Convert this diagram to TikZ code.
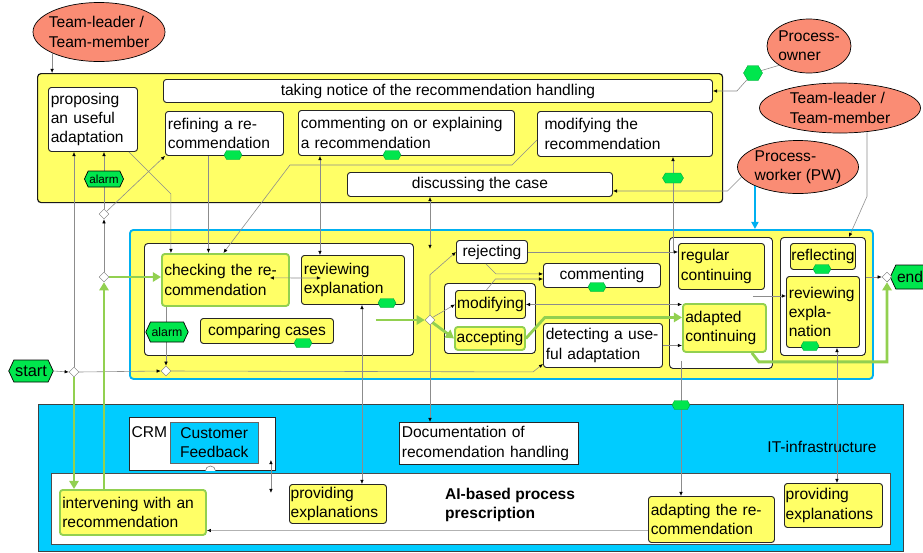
\documentclass[tikz,border=0pt]{standalone}
\usepackage{fontspec}
\setmainfont{Liberation Sans}
\usetikzlibrary{arrows.meta, shapes.geometric, shapes.symbols, positioning, calc}
\definecolor{rolesalmon}{HTML}{FA8C74}
\definecolor{actyellow}{HTML}{FFFF66}
\definecolor{itcyan}{HTML}{00CCFF}
\definecolor{pwblue}{HTML}{00B0F0}
\definecolor{evgreen}{HTML}{00E64D}
\definecolor{flowgreen}{HTML}{92D050}
\definecolor{linegray}{HTML}{8C8C8C}

\begin{document}
\begin{tikzpicture}[x=0.03cm, y=-0.03cm, every node/.style={font=\fontsize{13.3}{16.5}\selectfont}]
  \tikzset{dim/.style 2 args={minimum width=#1*0.03cm, minimum height=#2*0.03cm},
           wh/.style 2 args={dim={#1}{#2}, anchor=north west, inner xsep=2pt, inner ysep=1pt},
           lb/.style 2 args={wh={#1}{#2}, text width=#1*0.03cm-4pt, align=left},
           cb/.style 2 args={wh={#1}{#2}, align=center},
           actw/.style={draw=black!85, fill=white, rounded corners=2.5pt, line width=0.8pt},
           acty/.style={draw=black!85, fill=actyellow, rounded corners=2.5pt, line width=0.8pt},
           actg/.style={draw=flowgreen, fill=actyellow, rounded corners=2.5pt, line width=1.6pt},
           grp/.style={draw=black!85, fill=white, rounded corners=3pt, line width=0.8pt},
           role/.style={ellipse, draw=black, fill=rolesalmon, line width=0.6pt, inner sep=0pt},
           evhex/.style={signal, signal to=east and west, signal pointer angle=130,
                         draw=black, fill=evgreen, inner sep=1pt, line width=0.6pt},
           mk/.style={signal, signal to=east and west, signal pointer angle=120, inner sep=0pt,
                      fill=evgreen, draw=evgreen!70!black, line width=0.3pt},
           gate/.style={diamond, draw=black!55, fill=white, minimum size=10*0.03cm, inner sep=0pt},
           >={Latex[length=3.5pt, width=3pt, color=black]},
           flow/.style={draw=linegray, line width=0.5pt, ->},
           flowb/.style={draw=linegray, line width=0.5pt, <->},
           gflow/.style={draw=flowgreen, line width=2.4pt, -{Triangle[length=7pt, width=8pt]}},
           pwarrow/.style={draw=pwblue, line width=1.4pt, -{Triangle[length=6pt, width=6pt]}}}
  \useasboundingbox (0,0) rectangle (923,552);

  % containers
  \node[wh={685}{129}, draw=black!90, fill=actyellow, rounded corners=3pt, line width=1pt] (topbox) at (37,73) {};
  \node[wh={743}{149}, draw=pwblue, fill=actyellow, rounded corners=3pt, line width=1.6pt] (midbox) at (129,229) {};
  \node[wh={865}{147}, draw=black!75, fill=itcyan, line width=1pt] (itbox) at (38,404) {};
  \node[wh={839}{71}, draw=black!70, fill=white, line width=1pt] (aibox) at (51,473) {};
  \node[grp, wh={269}{112}] (grpA) at (144,243) {};
  \node[grp, wh={91}{70}] (grpB) at (444,283) {};
  \node[grp, wh={103}{131}] (grpC) at (669,237) {};
  \node[grp, wh={85}{118}] (grpD) at (780,237) {};
  \node[draw=black!85, fill=white, line width=0.8pt, wh={146}{53}] (crm) at (129,417) {};

  % roles
  \node[role, dim={132}{59}] (tlA) at (99,32) {};
  \node[align=left] (tlAt) at (tlA) {Team-leader /\\Team-member};
  \node[role, dim={84}{54}] (po) at (809,46) {};
  \node[align=left] (pot) at (po) {Process-\\owner};
  \node[role, dim={161}{50}] (tlB) at (840,108) {};
  \node[align=left] (tlBt) at (tlB) {Team-leader /\\Team-member};
  \node[role, dim={121}{53}] (pw) at (798,167) {};
  \node[align=left] (pwt) at (pw) {Process-\\worker (PW)};

  % team activities
  \node[actw, lb={89}{64}] (propose) at (48,87) {proposing\\an useful\\adaptation};
  \node[actw, cb={549}{23}] (notice) at (163,79) {taking notice of the recommendation handling};
  \node[actw, lb={118}{44}] (refine) at (165,111) {refining a re-\\commendation};
  \node[actw, lb={216}{45}] (cmo) at (298,110) {commenting on or explaining\\a recommendation};
  \node[actw, lb={175}{45}, inner xsep=6pt, text width=175*0.03cm-12pt] (modrec) at (537,111) {modifying the\\recommendation};
  \node[actw, cb={265}{24}] (discuss) at (347,172) {discussing the case};

  % process worker activities
  \node[actg, lb={127}{52}] (check) at (161,253) {checking the re-\\commendation};
  \node[acty, lb={103}{49}] (review) at (301,255) {reviewing\\explanation};
  \node[acty, cb={133}{25}] (compare) at (200,318) {comparing cases};
  \node[actw, cb={71}{23}] (reject) at (456,240) {rejecting};
  \node[actw, cb={117}{24}] (comm) at (543,263) {commenting};
  \node[acty, cb={70}{28}, inner xsep=0pt] (modify) at (455,290) {modifying};
  \node[actg, cb={70}{23}, inner xsep=0pt] (accept) at (454,326) {accepting};
  \node[actw, lb={119}{44}] (detect) at (543,323) {detecting a use-\\ful adaptation};
  \node[acty, lb={86}{46}] (regular) at (678,243) {regular\\continuing};
  \node[actg, lb={83}{48}] (adapted) at (682,303) {adapted\\continuing};
  \node[acty, cb={65}{26}, inner xsep=0pt] (reflect) at (790,243) {reflecting};
  \node[acty, lb={73}{71}] (review2) at (786,276) {reviewing\\expla-\\nation};

  % IT infrastructure
  \node[draw=black!60, fill=itcyan, cb={88}{41}] (feedback) at (170,422) {Customer\\Feedback};
  \node[anchor=west, inner sep=2pt] (crmt) at (129,432) {CRM};
  \node[draw=black!85, fill=white, line width=0.8pt, lb={179}{42}] (doc) at (399,422) {Documentation of\\recomendation handling};
  \node (itlbl) at (822,447) {IT-infrastructure};
  \node[actg, lb={146}{45}] (intervene) at (59,489) {intervening with an\\recommendation};
  \node[acty, lb={97}{39}, inner xsep=1pt, text width=97*0.03cm-2pt] (prov1) at (289,484) {providing\\explanations};
  \node[anchor=north west, align=left, font=\fontsize{13.3}{16.5}\selectfont\bfseries] (ailbl) at (441,484) {AI-based process\\prescription};
  \node[acty, lb={126}{46}] (adapting) at (648,496) {adapting the re-\\commendation};
  \node[acty, lb={98}{44}, inner xsep=1pt, text width=98*0.03cm-2pt] (prov2) at (784,483) {providing\\explanations};
  \draw[black!60, fill=white] ($(crm.south)+(3,0)$) arc[start angle=180, end angle=360, radius=5];

  % events and gateways
  \node[evhex, dim={42}{22}, font=\fontsize{14}{16}\selectfont] (start) at (31,371) {start};
  \node[evhex, dim={32}{24}] (end) at (910,277) {end};
  \node[gate] (d0) at (74,372) {};
  \node[gate] (d1) at (166,371) {};
  \node[gate] (d2) at (104,277) {};
  \node[gate] (d3) at (104,214) {};
  \node[gate] (d4) at (430,320) {};
  \node[gate] (d5) at (887,277) {};
  \coordinate (hxPO) at (753,73);
  \coordinate (hxMR) at (673,178);
  \coordinate (hxIT) at (681,405);

  % connectors
  \draw[flow] (tlA.south west) -- (tlA.south west |- topbox.north);
  \draw[flow] (po.south west) -- (hxPO) -- ($(notice.east)+(24,0)$) -- (notice.east);
  \draw[flow] (pw.190) -- ++(-14,14) coordinate (pwb) -- (pwb -| discuss.east);
  \draw[pwarrow] (pw.south west) -- (pw.south west |- midbox.north);
  \draw[flow] ($(tlB.south)+(27,-1)$) -- ++(0,64) -- ($(grpD.north)+(26,0)$);
  \draw[flow] (reject.east) -- (reject.east -| regular.west);
  \draw[flow] (reject.east -| hxMR) -- (hxMR |- modrec.south);
  \draw[flowb] (d4 |- discuss.south) -- ++(0,52);
  \draw[flow] (d4.north) -- ++(0,-40) -- (reject.west);
  \draw[flow] (d4.north east) -- (modify.west);
  \draw[flow] (d4.south) -- (d4 |- doc.north);
  \draw[gflow] (d4.south east) -- (accept.west);
  \draw[gflow] ($(d4.west)+(-49,0)$) -- (d4.west);
  \draw[flow] ($(reject.south)+(-6,0)$) -- ++(10,10) coordinate (rc) -- (rc -| comm.west);
  \draw[flow] ($(modify.north)+(-4,0)$) -- ++(9,-11) coordinate (mc) -- (mc -| comm.west);
  \draw[flowb] (modify.east) -- (modify.east -| adapted.west);
  \draw[flow] (detect.east) -- (detect.east -| adapted.west);
  \draw[gflow] (accept.east) -- ++(19,-21) coordinate (ac) -- (ac -| adapted.west);
  \draw[flow] ($(grpC.east)+(-20,-7)$) coordinate (gc) -- (gc -| review2.west);
  \draw[flow] (d5 -| grpD.east) -- (d5.west);
  \draw[linegray] (d5.east) -- (end.west);
  \draw[gflow] ($(adapted.south east)+(-15,0)$) -- ++(7,9) coordinate (ad) -- (ad -| d5) -- (d5.south);
  \draw[flow] (start.east) -- (d0.west);
  \draw[flow] (d0.east) -- (d1.west);
  \draw[flow] (d1.east) -- ($(detect.south west)+(-10,4)$) -- ($(detect.south west)+(0,-4)$);
  \draw[flow] (d1 |- check.south) -- (d1.north);
  \draw[gflow] (d0.south) -- (d0 |- intervene.north);
  \draw[flow] (d0.north) -- (d0 |- propose.south);
  \draw[gflow] (d2 |- intervene.north) -- (d2.south);
  \draw[gflow] (d2.east) -- (d2 -| check.west);
  \draw[flow] (d2.north) -- (d3.south);
  \draw[flow] (d3.north) -- (d3 |- propose.south);
  \draw[flow] (d3.north east) -- (refine.south west);
  \draw[flow] ($(propose.south east)+(-9,0)$) -- ++(42,42) coordinate (pc) -- (pc |- check.north);
  \draw[flow] ($(refine.south)+(-16,0)$) coordinate (rf) -- (rf |- check.north);
  \draw[flow] ($(modrec.west)+(0,6)$) -- ++(-25,25) -- ++(-222,0) -- ($(check.north)+(-2,0)$);
  \draw[flowb] ($(review.north)+(-33,0)$) coordinate (rv) -- (rv |- cmo.south);
  \draw[flowb] ($(check.east)+(-20,-2)$) -- ($(review.west)+(20,-2)$);
  \draw[flowb] ($(review.south)+(9,0)$) coordinate (rp) -- (rp |- prov1.north);
  \draw[flowb] ($(crm.south east)+(-5,-11)$) -- ++(0,33);
  \draw[flow, draw=black!30] ($(adapting.west)+(0,11)$) coordinate (aw) -- (aw -| intervene.east);
  \draw[flowb] ($(review2.south)+(14,0)$) coordinate (rq) -- (rq |- prov2.north);
  \draw[flow] ($(grpC.south west)+(12,-8)$) coordinate (gq) -- (gq |- adapting.north);

  % markers
  \node[evhex, dim={36}{16}, font=\fontsize{10}{12}\selectfont] (alarmA) at (104,179) {alarm};
  \node[evhex, dim={38}{20}, font=\fontsize{10.5}{12}\selectfont] (alarmB) at (167,332) {alarm};
  \node[mk, dim={18}{9}] (mk1) at (233,155) {};
  \node[mk, dim={18}{9}] (mk2) at (392,155) {};
  \node[mk, dim={21}{10}] (mk3) at (hxMR) {};
  \node[mk, dim={19}{15}] (mk4) at (hxPO) {};
  \node[mk, dim={18}{9}] (mk5) at (387,303) {};
  \node[mk, dim={18}{9}] (mk6) at (303,343) {};
  \node[mk, dim={18}{9}] (mk7) at (597,287) {};
  \node[mk, dim={18}{9}] (mk8) at (822,269) {};
  \node[mk, dim={18}{9}] (mk9) at (810,346) {};
  \node[mk, dim={18}{9}] (mk10) at (hxIT) {};
\end{tikzpicture}
\end{document}
